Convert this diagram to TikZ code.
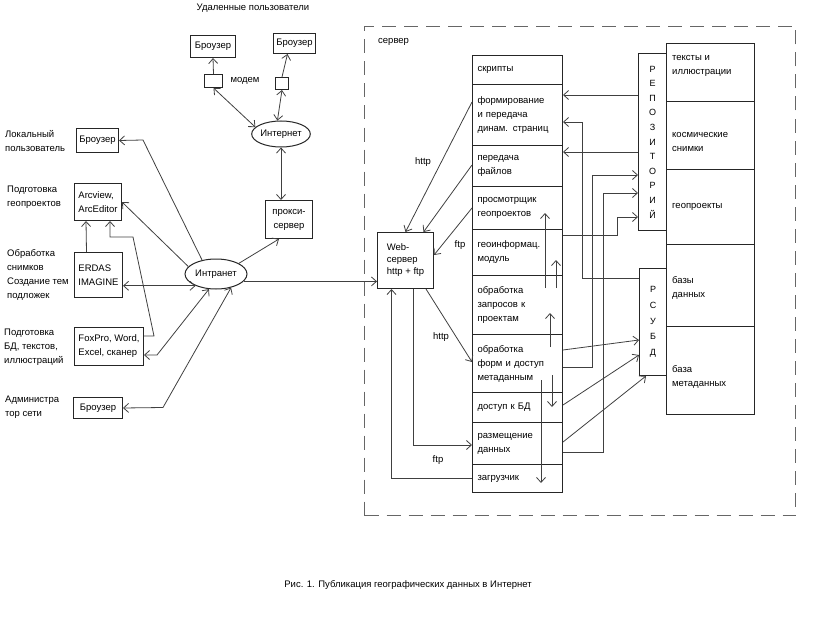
\documentclass[tikz,border=0pt]{standalone}
\usepackage{fontspec}
\setmainfont{Liberation Sans}
\usetikzlibrary{arrows.meta,shapes.geometric}
\begin{document}
\begin{tikzpicture}[x=1pt,y=-1pt,
  font=\fontsize{9.5}{14}\selectfont,
  ln/.style={draw=black!75, line width=0.8pt},
  >={Straight Barb[length=5pt,width=9pt]},
  box/.style={draw=black!85, line width=1pt, inner sep=0pt, anchor=north west, align=center},
  lbox/.style={box, align=left},
  rowbox/.style={box, text width=80pt, minimum width=90pt, inner xsep=5pt, inner ysep=0pt, align=left},
  oval/.style={ellipse, draw=black!85, line width=1pt, inner sep=0pt},
  lbl/.style={inner sep=0pt, align=left, anchor=west},
  txt/.style={inner sep=0pt},
]
\useasboundingbox (0,0) rectangle (820,626);

% ---------- remote users ----------
\node[txt] (rt) at (253,8) {Удаленные пользователи};
\node[box, minimum width=45pt, minimum height=22pt] (b1) at (190,35) {Броузер};
\node[box, minimum width=42pt, minimum height=20pt] (b2) at (273,33) {Броузер};
\node[box, minimum width=18pt, minimum height=13pt] (m1) at (204,74) {};
\node[box, minimum width=13pt, minimum height=12pt] (m2) at (275,77) {};
\node[txt] (mt) at (245,81) {модем};
\node[oval, minimum width=55pt, minimum height=26pt] (inet) at (281,134) {Интернет};
\node[box, minimum width=47pt, minimum height=38pt] (proxy) at (265,200) {прокси-\\сервер};

\draw[ln,->] (m1.north) -- (b1.south);
\draw[ln,->] (m2.north) -- ([xshift=-7pt]b2.south);
\draw[ln,<->] (m1.south) -- (inet.165);
\draw[ln,<->] (m2.south) -- (inet.105);
\draw[ln,<->] (inet.south) -- (inet.south |- proxy.north);

% ---------- local side ----------
\node[lbl] (t1) at (5,141) {Локальный\\пользователь};
\node[box, minimum width=42pt, minimum height=24pt] (lb) at (76,128) {Броузер};
\node[lbl] (t2) at (7,197) {Подготовка\\геопроектов};
\node[lbox, minimum width=47pt, minimum height=37pt] (av) at (74,183) {Arcview,\\ArcEditor};
\node[lbl] (t3) at (7,275) {Обработка\\снимков\\Создание тем\\подложек};
\node[lbox, minimum width=48pt, minimum height=45pt] (er) at (74,252) {ERDAS\\IMAGINE};
\node[oval, minimum width=62pt, minimum height=30pt] (intr) at (216,274) {Интранет};
\node[lbl] (t4) at (4,347) {Подготовка\\БД, текстов,\\иллюстраций};
\node[lbox, minimum width=69pt, minimum height=38pt] (fp) at (74,327) {FoxPro, Word,\\Excel, сканер};
\node[lbl] (t5) at (5,407) {Администра\\тор сети};
\node[box, minimum width=49pt, minimum height=21pt] (ab) at (73,397) {Броузер};

\coordinate (c1) at (143,140);
\draw[ln,->] (intr.135) -- (c1) -- (lb.east);
\draw[ln,->] (intr.165) -- (av.east);
\draw[ln,->] ([xshift=-12pt]er.north) -- ([xshift=-12pt]av.south);
\draw[ln,<->] (er.east |- intr.210) -- (intr.210);
\coordinate (c2) at (154,336);
\coordinate (c3) at (133,237);
\coordinate (c4) at (110,237);
\draw[ln,->] (fp.east |- c2) -- (c2) -- (c3) -- (c4) -- (c4 |- av.south);
\coordinate (c5) at (157,355);
\draw[ln,<->] (fp.east |- c5) -- (c5) -- (intr.245);
\coordinate (c6) at (163,407.5);
\draw[ln,<->] (ab.east) -- (c6) -- (intr.318);
\draw[ln,->] (intr.25) -- ([xshift=-10pt]proxy.south);

% ---------- server ----------
\node[draw=black!60, line width=1pt, dash pattern=on 14pt off 8pt, minimum width=431pt, minimum height=489pt, anchor=north west, inner sep=0pt] (srv) at (364,26) {};
\node[lbl] (st) at (378,42) {сервер};
\node[lbox, minimum width=56pt, minimum height=56pt, font=\fontsize{9.5}{12}\selectfont] (ws) at (377,232) {Web-\\сервер\\http + ftp};

\node[rowbox, minimum height=29pt] (scr) at (472,55) {скрипты};
\node[rowbox, minimum height=61pt] (form) at (472,84) {формирование\\и передача\\динам. страниц};
\node[rowbox, minimum height=41pt] (pf) at (472,145) {передача\\файлов};
\node[rowbox, minimum height=43pt] (pr) at (472,186) {просмотрщик\\геопроектов};
\node[rowbox, minimum height=46pt] (gm) at (472,229) {геоинформац.\\модуль};
\node[rowbox, minimum height=59pt] (oz) at (472,275) {обработка\\запросов к\\проектам};
\node[rowbox, minimum height=58pt] (of) at (472,334) {обработка\\форм и доступ\\метаданным};
\node[rowbox, minimum height=30pt] (db) at (472,392) {доступ к БД};
\node[rowbox, minimum height=42pt] (rd) at (472,422) {размещение\\данных};
\node[rowbox, minimum height=28pt] (zg) at (472,464) {загрузчик};

\node[box, minimum width=28pt, minimum height=177pt, font=\fontsize{9}{14.6}\selectfont] (repo) at (638,53) {Р\\Е\\П\\О\\З\\И\\Т\\О\\Р\\И\\Й};
\node[box, minimum width=27pt, minimum height=107pt, font=\fontsize{9}{15.7}\selectfont] (rdb) at (639,268) {Р\\С\\У\\Б\\Д};
\node[box, minimum width=88pt, minimum height=58pt] (d1) at (666,43) {};
\node[box, minimum width=88pt, minimum height=68pt] (d2) at (666,101) {};
\node[box, minimum width=88pt, minimum height=75pt] (d3) at (666,169) {};
\node[box, minimum width=88pt, minimum height=82pt] (d4) at (666,244) {};
\node[box, minimum width=88pt, minimum height=88pt] (d5) at (666,326) {};
\node[lbl] (dt1) at (672,66) {тексты и\\иллюстрации};
\node[lbl] (dt2) at (672,142) {космические\\снимки};
\node[lbl] (dt3) at (672,207) {геопроекты};
\node[lbl] (dt4) at (672,288) {базы\\данных};
\node[lbl] (dt5) at (672,377) {база\\метаданных};

% web-server connectors
\draw[ln,->] (intr.345) -- (ws.west |- intr.345);
\draw[ln,->] (form.west |- 0,102) -- (ws.north);
\draw[ln,->] (pf.west |- 0,165) -- ([xshift=18pt]ws.north);
\draw[ln,->] (pr.west |- 0,208) -- (ws.east |- 0,255);
\draw[ln,->] ([xshift=-8pt]ws.south east) -- (of.west |- 0,362);
\draw[ln,->] ([xshift=8pt]ws.south) |- (rd.west |- 0,445);
\draw[ln,->] (zg.west) -| ([xshift=-14pt]ws.south);
\node[txt] (h1) at (423,162) {http};
\node[txt] (f1) at (460,245) {ftp};
\node[txt] (h2) at (441,337) {http};
\node[txt] (f2) at (438,460) {ftp};

% internal arrows in the column
\coordinate (i1a) at (545,288); \coordinate (i1b) at (545,213);
\coordinate (i2a) at (556,288); \coordinate (i2b) at (556,260);
\coordinate (i3a) at (550,347); \coordinate (i3b) at (550,313);
\coordinate (i4a) at (552,375); \coordinate (i4b) at (552,407);
\coordinate (i5a) at (541,380); \coordinate (i5b) at (541,483);
\draw[ln,->] (i1a) -- (i1b);
\draw[ln,->] (i2a) -- (i2b);
\draw[ln,->] (i3a) -- (i3b);
\draw[ln,->] (i4a) -- (i4b);
\draw[ln,->] (i5a) -- (i5b);

% repository / DBMS connectors
\draw[ln,->] (repo.west |- 0,95) -- (form.east |- 0,95);
\draw[ln,->] (rdb.west |- 0,278) -- (582,278) -- (582,122) -- (form.east |- 0,122);
\draw[ln,->] (repo.west |- 0,152) -- (pf.east |- 0,152);
\draw[ln,->] (of.east |- 0,367) -- (592,367) -- (592,175) -- (repo.west |- 0,175);
\draw[ln,->] (rd.east |- 0,452) -- (603,452) -- (603,193) -- (repo.west |- 0,193);
\draw[ln,->] (gm.east |- 0,235) -- (617,235) -- (617,217) -- (repo.west |- 0,217);
\draw[ln,->] (of.east |- 0,350) -- (rdb.west |- 0,340);
\draw[ln,->] (db.east |- 0,405) -- (rdb.west |- 0,355);
\draw[ln,->] (rd.east |- 0,442) -- ([xshift=-7pt]rdb.south);

\node[txt] (cap) at (408,585) {Рис. 1. Публикация географических данных в Интернет};
\end{tikzpicture}
\end{document}
